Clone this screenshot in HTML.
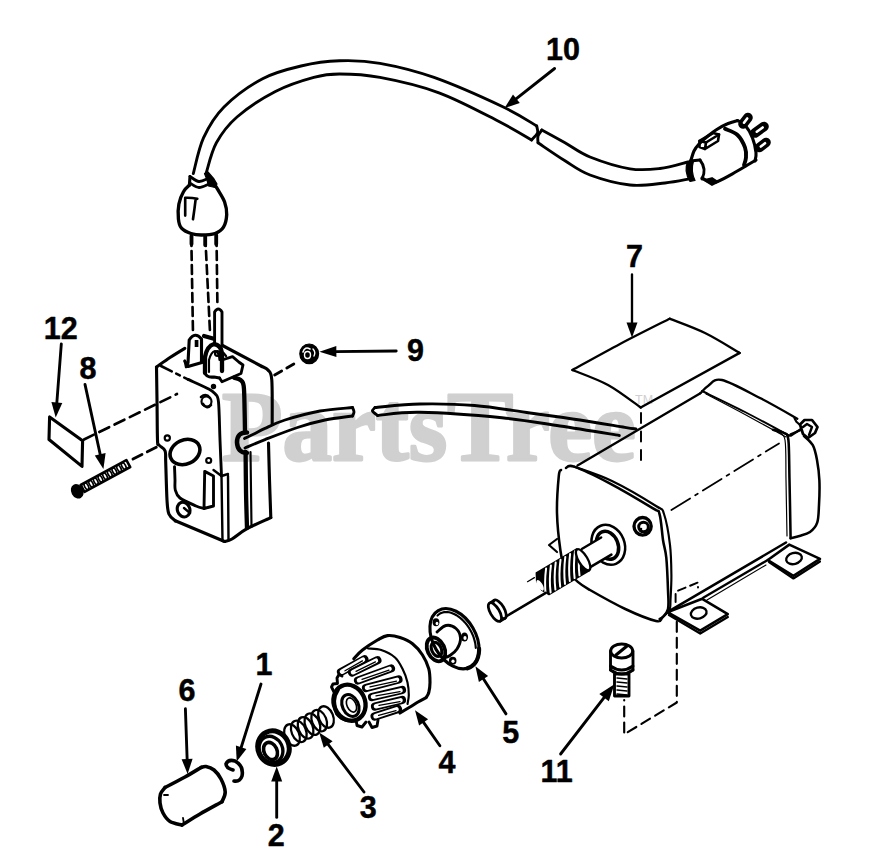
<!DOCTYPE html>
<html><head><meta charset="utf-8"><style>
html,body{margin:0;padding:0;background:#fff;}
svg{display:block;}
text{font-family:"Liberation Sans",sans-serif;font-weight:bold;fill:#000;stroke:#000;stroke-width:0.45px;}
text.wm{font-family:"Liberation Serif",serif;font-weight:bold;font-size:100px;fill:#d0d0d0;stroke:#d0d0d0;stroke-width:2.8px;stroke-linejoin:round;}
text.tm{font-family:"Liberation Sans",sans-serif;font-weight:normal;font-size:12.5px;fill:#d0d0d0;stroke:none;}
</style></head><body>
<svg width="879" height="858" viewBox="0 0 879 858" stroke-linecap="round" stroke-linejoin="round">
<rect width="879" height="858" fill="#fff"/>
<text x="222" y="459.5" class="wm" textLength="414" lengthAdjust="spacingAndGlyphs">PartsTree</text>
<text x="635" y="403.5" class="tm">TM</text>
<path d="M193.3,173.6 C195.0,167.6 198.5,148.8 203.6,137.7 C208.7,126.6 214.2,116.8 224.0,107.0 C233.8,97.2 249.8,85.5 262.6,78.7 C275.4,71.9 288.2,69.0 301.0,66.0 C313.8,63.0 326.3,61.2 339.5,60.8 C352.7,60.3 364.2,60.5 380.0,63.3 C395.8,66.1 413.4,70.1 434.0,77.4 C454.6,84.7 486.2,98.9 503.3,107.0 C520.4,115.1 531.1,122.8 536.7,126.0" fill="none" stroke="#000" stroke-width="2.88" />
<path d="M206.0,173.6 C207.7,168.5 211.2,152.2 216.4,142.8 C221.6,133.4 227.2,125.5 237.0,117.0 C246.8,108.5 262.6,98.1 275.4,91.5 C288.2,84.9 303.1,80.3 313.8,77.4 C324.5,74.5 328.5,74.0 339.5,74.0 C350.5,74.0 363.4,74.3 380.0,77.4 C396.6,80.5 419.3,85.5 439.0,92.8 C458.7,100.1 482.6,113.1 498.0,121.0 C513.4,128.9 525.9,136.8 531.5,140.0" fill="none" stroke="#000" stroke-width="2.88" />
<path d="M536.7,126.0 C536.8,127.2 538.4,130.7 537.5,133.0 C536.6,135.3 532.5,138.8 531.5,140.0" fill="none" stroke="#000" stroke-width="2.88" />
<path d="M541.8,130.0 C541.2,131.0 538.6,133.9 538.0,136.0 C537.4,138.1 538.0,141.7 538.0,142.8" fill="none" stroke="#000" stroke-width="2.88" />
<path d="M541.8,130.0 C545.7,132.1 557.0,138.3 565.0,142.8 C573.0,147.3 579.2,152.7 590.0,157.0 C600.8,161.3 618.3,166.9 630.0,168.8 C641.7,170.7 650.3,169.6 660.0,168.5 C669.7,167.4 683.3,163.1 688.0,162.0" fill="none" stroke="#000" stroke-width="2.88" />
<path d="M538.0,142.8 C542.5,145.8 556.3,155.4 565.0,160.8 C573.7,166.2 579.2,171.0 590.0,175.0 C600.8,179.0 617.5,183.7 630.0,185.0 C642.5,186.3 655.0,184.0 665.0,183.0 C675.0,182.0 685.8,179.5 690.0,178.8" fill="none" stroke="#000" stroke-width="2.88" />
<path d="M190.0,176.5 C191.5,177.3 196.0,181.2 199.0,181.5 C202.0,181.8 206.5,179.0 208.0,178.5" fill="none" stroke="#000" stroke-width="2.88" />
<path d="M190.5,183.5 C191.9,184.2 196.1,187.3 199.0,187.5 C201.9,187.7 206.5,185.0 208.0,184.5" fill="none" stroke="#000" stroke-width="2.88" />
<polyline points="190.0,176.5 189.4,185.2" fill="none" stroke="#000" stroke-width="3.12" />
<path d="M204.5,173.6 L207,180 L208.5,186 L215,187.5 L217,184 L214,179 L208,172 Z" fill="#000" stroke="#000" stroke-width="1.20" />
<path d="M189.4,185.2 C188.4,186.2 185.3,188.4 183.6,191.5 C181.8,194.6 179.8,199.4 178.9,204.0 C178.0,208.6 178.0,214.8 178.4,218.8 C178.8,222.8 179.4,225.8 181.5,228.2 C183.6,230.6 187.7,232.4 191.0,233.5 C194.3,234.6 197.5,235.0 201.5,235.0 C205.5,235.0 211.3,234.8 215.0,233.5 C218.7,232.2 221.6,230.3 223.5,227.2 C225.4,224.0 226.5,218.8 226.7,214.6 C226.9,210.4 226.0,206.0 224.6,202.0 C223.2,198.0 219.9,193.2 218.3,190.4 C216.7,187.6 215.6,186.1 215.0,185.2" fill="none" stroke="#000" stroke-width="3.36" />
<path d="M185.2,215.6 L185.2,197.8 Q191,197.5 197.3,198.8 M195.7,198.8 Q194.5,209 193,219.3" fill="none" stroke="#000" stroke-width="2.64" />
<polyline points="191.5,236.0 191.5,244.0" fill="none" stroke="#000" stroke-width="3.84" />
<polyline points="205.2,236.0 205.2,245.0" fill="none" stroke="#000" stroke-width="3.84" />
<polyline points="216.2,235.0 216.2,244.0" fill="none" stroke="#000" stroke-width="3.84" />
<path d="M687.5,162 Q683.5,171 690,181.5 L695,180.5 Q690.5,171 693.5,161 Z" fill="#000" stroke="#000" stroke-width="1.20" />
<path d="M700,160 Q707,169 702,179" fill="none" stroke="#000" stroke-width="2.88" />
<polyline points="690.0,161.0 700.0,160.0" fill="none" stroke="#000" stroke-width="2.88" />
<path d="M691.0,160.0 C691.5,158.5 692.7,153.7 694.0,151.0 C695.3,148.3 696.7,146.5 699.0,144.0 C701.3,141.5 705.2,138.3 708.0,136.0 C710.8,133.7 712.8,132.0 716.0,130.0 C719.2,128.0 723.9,125.3 727.5,123.8 C731.1,122.2 735.8,121.1 737.5,120.6" fill="none" stroke="#000" stroke-width="3.12" />
<path d="M737.5,120.6 C738.8,121.3 742.5,122.1 745.0,125.0 C747.5,127.9 750.7,133.4 752.5,138.0 C754.3,142.6 755.6,148.7 756.0,152.5 C756.4,156.3 755.2,159.6 755.0,161.0" fill="none" stroke="#000" stroke-width="3.12" />
<path d="M725.0,128.8 C727.1,129.8 734.2,131.9 737.5,135.0 C740.8,138.1 743.6,143.8 745.0,147.5 C746.4,151.2 746.2,154.6 746.0,157.5 C745.8,160.4 744.3,163.8 744.0,165.0" fill="none" stroke="#000" stroke-width="3.84" />
<path d="M702.0,178.0 C704.0,178.8 708.9,183.2 714.0,182.5 C719.1,181.8 726.9,176.7 732.5,173.8 C738.1,170.8 743.6,167.3 747.5,165.0 C751.4,162.7 754.6,160.8 756.0,160.0" fill="none" stroke="#000" stroke-width="3.12" />
<path d="M704,180 L712,185 L718,182 L712,178 Z" fill="#000" stroke="#000" stroke-width="1.80" />
<line x1="743" y1="124" x2="748" y2="117.5" stroke="#000" stroke-width="9.60"/>
<line x1="744.0" y1="122.7" x2="747.25" y2="118.475" stroke="#fff" stroke-width="2.6"/>
<line x1="755" y1="133" x2="764" y2="126.5" stroke="#000" stroke-width="9.60"/>
<line x1="756.8" y1="131.7" x2="762.65" y2="127.475" stroke="#fff" stroke-width="2.6"/>
<line x1="759.5" y1="147.5" x2="766" y2="142.5" stroke="#000" stroke-width="9.60"/>
<line x1="760.8" y1="146.5" x2="765.025" y2="143.25" stroke="#fff" stroke-width="2.6"/>
<path d="M699.5,141 L713,133 L719,134.5 L706,142.5 Z" fill="none" stroke="#000" stroke-width="2.64" />
<path d="M699.5,141 L699.5,147 L705,149 L706,142.5 M705,149 L718,141 L719,134.5" fill="none" stroke="#000" stroke-width="2.64" />
<text x="546.0" y="60.2" font-size="30.5">10</text>
<line x1="554.6" y1="68.5" x2="514.8" y2="99.9" stroke="#000" stroke-width="2.88"/>
<path d="M504.6,108.0 L513.0,94.4 L519.8,103.0 Z" fill="#000"/>
<polyline points="191.3,237.0 193.0,334.0" fill="none" stroke="#000" stroke-width="2.64" stroke-dasharray="9 5"/>
<polyline points="205.3,237.0 210.0,332.0" fill="none" stroke="#000" stroke-width="2.64" stroke-dasharray="9 5"/>
<polyline points="216.5,237.0 217.4,304.0" fill="none" stroke="#000" stroke-width="2.64" stroke-dasharray="9 5"/>
<path d="M214.6,345 L214.6,312 Q218.3,306 222,312 L222,346" fill="none" stroke="#000" stroke-width="2.88" />
<path d="M188,363 L189.2,340 Q195,331 201.5,339 L201.5,362" fill="none" stroke="#000" stroke-width="3.12" />
<rect x="194.7" y="340" width="3.7" height="7" fill="#000"/>
<path d="M184.7,361 L188,366.5 L202,362.5 L202,358" fill="none" stroke="#000" stroke-width="3.12" />
<path d="M185,362 L189,366 L186,367 Z" fill="#000" stroke="#000" stroke-width="2.40" />
<polyline points="204.0,336.0 213.0,338.5" fill="none" stroke="#000" stroke-width="4.20" />
<path d="M205,373 L205,357 Q207,346 214,344 Q221,345 222,353 L222,371" fill="#fff" stroke="#000" stroke-width="4.32" />
<path d="M209,372 L209,360 Q211,352 215,351 Q219,352 219.5,360" fill="none" stroke="#000" stroke-width="2.16" />
<ellipse cx="217.3" cy="353.5" rx="2.3" ry="2.3" transform="rotate(0 217.3 353.5)" fill="none" stroke="#000" stroke-width="2.16"/>
<path d="M222,360 L232.5,356.7 L238.8,362 L243,365 L241,373.5 L222,381.8 L219.5,378" fill="none" stroke="#000" stroke-width="2.88" />
<path d="M205,373 Q207,378 214,377 L219.5,378" fill="none" stroke="#000" stroke-width="3.12" />
<polyline points="223.5,353.0 226.0,356.0" fill="none" stroke="#000" stroke-width="2.40" />
<path d="M156.5,367.0 C158.8,365.4 165.3,360.6 170.0,357.5 C174.7,354.4 182.3,349.8 184.8,348.3" fill="none" stroke="#000" stroke-width="3.12" />
<path d="M156.5,367.0 C156.6,372.5 156.8,387.8 157.0,400.0 C157.2,412.2 157.2,432.5 157.5,440.0 C157.8,447.5 157.8,443.2 159.0,445.0 C160.2,446.8 163.9,447.9 165.0,450.7 C166.1,453.5 165.4,453.6 165.7,461.8 C166.0,470.0 166.5,491.3 167.0,500.0 C167.5,508.7 167.5,510.5 168.9,514.0 C170.3,517.5 174.2,519.7 175.3,520.8" fill="none" stroke="#000" stroke-width="3.12" />
<polyline points="175.3,520.8 224.6,541.5" fill="none" stroke="#000" stroke-width="3.12" />
<path d="M224.6,541.5 C225.8,541.1 228.3,541.1 232.0,539.0 C235.7,536.9 240.5,532.3 247.0,528.7 C253.5,525.1 266.8,519.5 270.8,517.6" fill="none" stroke="#000" stroke-width="3.12" />
<path d="M262.0,366.5 C263.0,367.1 266.4,367.8 268.0,370.0 C269.6,372.2 271.1,371.0 271.8,380.0 C272.5,389.0 272.1,416.7 272.2,424.0" fill="none" stroke="#000" stroke-width="3.12" />
<path d="M268.5,443.0 C268.7,449.2 269.1,467.6 269.5,480.0 C269.9,492.4 270.6,511.3 270.8,517.6" fill="none" stroke="#000" stroke-width="3.12" />
<polyline points="262.0,366.5 222.5,345.5" fill="none" stroke="#000" stroke-width="3.12" />
<path d="M161,366 L188,379.4" stroke="#000" stroke-width="2.64" stroke-dasharray="12 5 4 5" fill="none"/>
<path d="M188.0,379.4 C191.4,381.0 204.2,386.6 208.7,389.0 C213.2,391.4 213.4,391.5 215.0,393.7 C216.6,395.9 217.7,394.3 218.5,402.0 C219.3,409.7 219.5,427.7 220.0,440.0 C220.5,452.3 221.2,470.0 221.5,476.0" fill="none" stroke="#000" stroke-width="2.88" />
<ellipse cx="213.5" cy="386.5" rx="1.8" ry="1.8" transform="rotate(0 213.5 386.5)" fill="#000" stroke="#000" stroke-width="1.80"/>
<polyline points="221.5,476.0 222.5,541.0" fill="none" stroke="#000" stroke-width="2.40" />
<polyline points="228.0,476.0 228.5,540.0" fill="none" stroke="#000" stroke-width="2.40" />
<path d="M213.5,470 L221.5,476 L228,474" fill="none" stroke="#000" stroke-width="2.40" />
<path d="M234.2,377.8 C235.2,378.2 238.9,378.6 240.5,380.0 C242.1,381.4 243.0,381.0 243.7,386.0 C244.4,391.0 244.4,402.3 244.6,410.0 C244.8,417.7 244.9,428.3 245.0,432.0" fill="none" stroke="#000" stroke-width="4.32" />
<path d="M245.6,452.0 C245.7,458.3 245.8,477.3 246.0,490.0 C246.2,502.7 246.8,521.7 247.0,528.0" fill="none" stroke="#000" stroke-width="4.32" />
<polyline points="250.5,452.0 251.5,527.0" fill="none" stroke="#000" stroke-width="2.16" />
<path d="M201,397 Q206,393 210,398 M203,404 Q207,410 211,405" fill="none" stroke="#000" stroke-width="2.64"/>
<ellipse cx="206.5" cy="401.5" rx="5.0" ry="5.0" transform="rotate(0 206.5 401.5)" fill="none" stroke="#000" stroke-width="2.16"/>
<ellipse cx="167.3" cy="438.0" rx="2.6" ry="2.6" transform="rotate(0 167.3 438.0)" fill="none" stroke="#000" stroke-width="2.16"/>
<ellipse cx="208.7" cy="460.5" rx="2.5" ry="2.5" transform="rotate(0 208.7 460.5)" fill="none" stroke="#000" stroke-width="2.16"/>
<ellipse cx="185.0" cy="452.0" rx="15.5" ry="12.0" transform="rotate(-25 185.0 452.0)" fill="none" stroke="#000" stroke-width="3.60"/>
<path d="M174.5,466.6 C174.6,468.8 174.9,476.1 175.0,480.0 C175.1,483.9 174.5,487.0 175.3,490.0 C176.1,493.0 176.6,495.3 180.0,498.0 C183.4,500.7 192.0,504.2 196.0,506.0 C200.0,507.8 202.7,508.1 204.0,508.5" fill="none" stroke="#000" stroke-width="2.88" />
<path d="M204,508.5 L204.7,471.4 L213.5,476 L213.5,506 L204,508.5" fill="none" stroke="#000" stroke-width="2.88" />
<ellipse cx="183.6" cy="509.6" rx="6.2" ry="7.5" transform="rotate(-20 183.6 509.6)" fill="none" stroke="#000" stroke-width="3.12"/>
<polyline points="184.0,508.0 190.0,513.0" fill="none" stroke="#000" stroke-width="2.40" />
<path d="M247,432.5 Q237,432 237,442.5 Q237.5,452.5 247,453" fill="none" stroke="#000" stroke-width="4.56" />
<path d="M244.5,438.5 C246.2,437.7 251.6,435.2 255.0,433.5 C258.4,431.8 260.0,430.6 265.0,428.4 C270.0,426.1 275.8,422.9 285.0,420.0 C294.2,417.1 308.8,413.1 320.0,411.0 C331.2,408.9 347.1,408.1 352.5,407.5" fill="none" stroke="#000" stroke-width="2.88" />
<path d="M245.0,448.0 C248.3,446.6 256.2,443.0 265.0,439.6 C273.8,436.2 287.5,430.8 297.5,427.5 C307.5,424.2 315.8,421.9 325.0,420.0 C334.2,418.1 347.9,416.7 352.5,416.0" fill="none" stroke="#000" stroke-width="2.88" />
<path d="M352.5,407.5 C352.8,408.2 354.0,410.6 354.0,412.0 C354.0,413.4 352.8,415.3 352.5,416.0" fill="none" stroke="#000" stroke-width="2.88" />
<path d="M375.0,407.5 C374.6,408.1 372.1,409.7 372.5,411.0 C372.9,412.3 376.7,414.8 377.5,415.5" fill="none" stroke="#000" stroke-width="2.88" />
<path d="M375.0,407.5 C382.5,406.9 403.4,404.3 420.0,404.0 C436.6,403.7 456.3,404.0 474.6,405.5 C492.9,407.0 512.4,410.6 530.0,413.0 C547.6,415.4 564.2,417.6 580.0,420.0 C595.8,422.4 615.5,425.8 624.8,427.3 C634.1,428.8 634.1,428.7 636.0,429.0" fill="none" stroke="#000" stroke-width="2.88" />
<path d="M377.5,415.5 C384.6,415.0 399.2,411.9 420.0,412.3 C440.8,412.7 478.7,415.5 502.0,417.8 C525.3,420.1 540.5,423.1 560.0,426.0 C579.5,428.9 609.4,433.9 619.3,435.5" fill="none" stroke="#000" stroke-width="2.88" />
<text x="43.8" y="338.7" font-size="30.5">12</text>
<line x1="61.3" y1="344.0" x2="56.7" y2="404.5" stroke="#000" stroke-width="2.88"/>
<path d="M55.7,417.5 L51.4,402.1 L62.3,403.0 Z" fill="#000"/>
<path d="M49.6,417 L49,439.5 L82,466.4 L82.6,440.7 Z" fill="none" stroke="#000" stroke-width="3.12" />
<polyline points="84.0,439.5 177.0,394.0" fill="none" stroke="#000" stroke-width="2.64" stroke-dasharray="11 6"/>
<text x="79.4" y="378.5" font-size="30.5">8</text>
<line x1="85.0" y1="384.4" x2="100.6" y2="456.2" stroke="#000" stroke-width="2.88"/>
<path d="M103.4,468.9 L94.8,455.4 L105.6,453.1 Z" fill="#000"/>
<g transform="rotate(-28.5 82.6 488.4)">
<rect x="82.6" y="484.4" width="52" height="8" fill="none" stroke="#000" stroke-width="2.64"/>
<ellipse cx="87.0" cy="488.4" rx="1.8" ry="3.6" fill="none" stroke="#000" stroke-width="1.68"/>
<ellipse cx="92.3" cy="488.4" rx="1.8" ry="3.6" fill="none" stroke="#000" stroke-width="1.68"/>
<ellipse cx="97.6" cy="488.4" rx="1.8" ry="3.6" fill="none" stroke="#000" stroke-width="1.68"/>
<ellipse cx="102.9" cy="488.4" rx="1.8" ry="3.6" fill="none" stroke="#000" stroke-width="1.68"/>
<ellipse cx="108.2" cy="488.4" rx="1.8" ry="3.6" fill="none" stroke="#000" stroke-width="1.68"/>
<ellipse cx="113.5" cy="488.4" rx="1.8" ry="3.6" fill="none" stroke="#000" stroke-width="1.68"/>
<ellipse cx="118.8" cy="488.4" rx="1.8" ry="3.6" fill="none" stroke="#000" stroke-width="1.68"/>
<ellipse cx="124.1" cy="488.4" rx="1.8" ry="3.6" fill="none" stroke="#000" stroke-width="1.68"/>
<ellipse cx="129.4" cy="488.4" rx="1.8" ry="3.6" fill="none" stroke="#000" stroke-width="1.68"/>
<ellipse cx="76.5" cy="488.4" rx="6" ry="7.6" fill="#000"/>
</g>
<polyline points="133.0,459.0 157.3,446.8" fill="none" stroke="#000" stroke-width="2.88" stroke-dasharray="10 6"/>
<ellipse cx="309.2" cy="353.8" rx="9.4" ry="9.8" transform="rotate(0 309.2 353.8)" fill="#000" stroke="#000" stroke-width="1.20"/>
<path d="M303,352 Q305,346 310,349" fill="none" stroke="#fff" stroke-width="1.6"/>
<ellipse cx="307.5" cy="355.0" rx="3.0" ry="3.5" transform="rotate(0 307.5 355.0)" fill="none" stroke="#000" stroke-width="1.68"/>
<ellipse cx="307.5" cy="355" rx="3" ry="3.5" fill="none" stroke="#fff" stroke-width="1.4"/>
<path d="M313,349 Q316,352 314,356" fill="none" stroke="#fff" stroke-width="1.4"/>
<line x1="396.2" y1="351.0" x2="334.4" y2="351.6" stroke="#000" stroke-width="2.88"/>
<path d="M319.4,351.7 L336.3,346.0 L336.4,357.0 Z" fill="#000"/>
<text x="407.0" y="360.7" font-size="30.5">9</text>
<polyline points="293.8,364.0 272.3,376.3" fill="none" stroke="#000" stroke-width="2.88" stroke-dasharray="8 6"/>
<text x="626.0" y="266.5" font-size="30.5">7</text>
<line x1="632.0" y1="274.4" x2="632.0" y2="324.5" stroke="#000" stroke-width="2.35"/>
<path d="M632.0,337.5 L626.5,322.5 L637.5,322.5 Z" fill="#000"/>
<path d="M572.4,370.0 C580.3,365.7 603.8,352.6 620.0,344.0 C636.2,335.4 661.4,322.9 669.7,318.7" fill="none" stroke="#000" stroke-width="2.35" />
<path d="M669.7,318.7 C675.6,321.1 693.3,327.3 705.0,333.0 C716.7,338.7 733.9,349.6 739.7,352.9" fill="none" stroke="#000" stroke-width="2.35" />
<polyline points="739.7,352.9 640.7,407.5" fill="none" stroke="#000" stroke-width="2.35" />
<path d="M572.4,370.0 C578.3,372.5 596.6,378.8 608.0,385.0 C619.4,391.2 635.2,403.8 640.7,407.5" fill="none" stroke="#000" stroke-width="2.35" />
<polyline points="641.0,413.0 641.0,460.0" fill="none" stroke="#000" stroke-width="1.96" stroke-dasharray="10 8.5"/>
<polyline points="577.5,465.6 700.4,393.2" fill="none" stroke="#000" stroke-width="2.35" />
<path d="M700.4,393.2 C701.7,392.0 704.4,388.2 708.0,386.0 C711.6,383.8 713.3,378.0 722.0,380.0 C730.7,382.0 747.5,391.6 760.0,398.0 C772.5,404.4 791.1,415.2 797.3,418.7" fill="none" stroke="#000" stroke-width="2.35" />
<path d="M702.0,391.0 C709.2,394.5 730.6,404.6 745.0,412.0 C759.4,419.4 781.2,431.4 788.4,435.3" fill="none" stroke="#000" stroke-width="1.96" />
<path d="M706.0,394.0 C712.5,397.4 731.7,407.3 745.0,414.5 C758.3,421.7 779.2,433.2 786.0,437.0" fill="none" stroke="#000" stroke-width="1.18" />
<path d="M773.0,429.7 C774.8,430.2 781.4,431.3 784.0,433.0 C786.6,434.7 787.5,432.2 788.4,440.0 C789.3,447.8 789.1,463.6 789.5,480.0 C789.9,496.4 790.4,528.5 790.6,538.2" fill="none" stroke="#000" stroke-width="2.55" />
<path d="M778.0,432.0 C779.2,433.3 783.7,432.0 785.0,440.0 C786.3,448.0 785.7,464.0 786.0,480.0 C786.3,496.0 786.8,526.7 787.0,536.0" fill="none" stroke="#000" stroke-width="1.18" />
<path d="M790.6,434.2 C792.8,433.3 801.8,429.5 804.0,428.6" fill="none" stroke="#000" stroke-width="2.16" />
<path d="M804.0,436.0 C805.5,437.5 810.6,441.2 812.8,445.2 C815.0,449.2 815.9,454.1 817.0,460.0 C818.1,465.9 819.1,473.1 819.4,480.6 C819.7,488.1 819.4,498.0 819.0,505.0 C818.6,512.0 818.7,518.2 817.2,522.7 C815.7,527.2 813.0,529.8 810.0,532.0 C807.0,534.2 802.7,535.0 799.5,536.0 C796.3,537.0 792.1,537.8 790.6,538.2" fill="none" stroke="#000" stroke-width="2.55" />
<path d="M800,424.5 L804.5,420 L812,420 L817.5,427 L815,433 L808,438 L803,434 Z" fill="#fff" stroke="#000" stroke-width="2.74" />
<path d="M803,427 L807,424 L812,427 L809,435" fill="none" stroke="#000" stroke-width="2.35" />
<path d="M794.5,418.2 L796.4,421.8 L799.5,424.5" fill="none" stroke="#000" stroke-width="2.16" />
<path d="M787.3,435.5 L791,435.5 L801,429" fill="none" stroke="#000" stroke-width="2.35" />
<line x1="671.4" y1="510" x2="779" y2="443.4" stroke="#000" stroke-width="1.76" stroke-dasharray="22 6 3 6"/>
<path d="M566.0,468.0 C567.3,467.8 567.0,464.2 574.0,466.6 C581.0,469.0 595.2,475.7 608.3,482.6 C621.4,489.5 644.1,503.0 652.6,508.2 C661.1,513.4 657.8,508.7 659.5,514.0 C661.2,519.3 661.9,532.7 663.0,540.0 C664.1,547.3 665.5,549.4 666.3,557.7 C667.1,566.0 667.7,581.5 668.0,590.0 C668.3,598.5 669.0,604.3 668.0,609.0 C667.0,613.7 664.0,616.0 662.0,618.0 C660.0,620.0 662.1,622.5 656.0,621.0 C649.9,619.5 636.3,614.2 625.3,609.0 C614.3,603.8 598.0,594.6 590.0,590.0 C582.0,585.4 581.7,585.3 577.5,581.6 C573.3,577.9 567.8,573.1 565.0,568.0 C562.2,562.9 561.8,560.1 560.5,551.0 C559.2,541.9 557.3,525.8 557.0,513.3 C556.7,500.8 558.1,483.0 558.8,475.8 C559.5,468.6 560.6,471.0 561.0,470.0" fill="none" stroke="#000" stroke-width="2.55" />
<path d="M574.0,466.6 C580.3,469.0 598.3,474.4 612.0,481.0 C625.7,487.6 647.3,500.5 656.0,506.0 C664.7,511.5 661.7,507.5 664.0,514.0 C666.3,520.5 668.8,534.9 670.0,545.0 C671.2,555.1 671.3,565.6 671.4,574.8 C671.5,584.0 670.8,594.3 670.5,600.0 C670.2,605.7 670.8,606.3 669.7,609.0 C668.6,611.7 665.7,614.3 664.0,616.0 C662.3,617.7 660.2,618.5 659.5,619.0" fill="none" stroke="#000" stroke-width="2.16" />
<ellipse cx="642.6" cy="526.3" rx="8.6" ry="8.8" transform="rotate(0 642.6 526.3)" fill="none" stroke="#000" stroke-width="3.33"/>
<ellipse cx="643.5" cy="527.0" rx="4.8" ry="4.8" transform="rotate(0 643.5 527.0)" fill="none" stroke="#000" stroke-width="2.94"/>
<ellipse cx="641" cy="529" rx="1.3" ry="1.3" fill="#000"/>
<path d="M557,539 L549,545 L557,552" fill="none" stroke="#000" stroke-width="2.16" />
<polyline points="667.4,612.2 786.0,542.5" fill="none" stroke="#000" stroke-width="2.55" />
<polyline points="703.2,597.8 767.8,560.0" fill="none" stroke="#000" stroke-width="2.35" />
<polyline points="707.0,600.0 766.0,565.0" fill="none" stroke="#000" stroke-width="1.18" />
<path d="M667.4,612.2 L702.2,598.8 L727.8,614.2 L700.2,630.6 Z" fill="none" stroke="#000" stroke-width="2.55" />
<path d="M669,615 L700.2,633.6 L727.8,617" fill="none" stroke="#000" stroke-width="2.35" />
<ellipse cx="698.7" cy="613.0" rx="8.0" ry="5.5" transform="rotate(-15 698.7 613.0)" fill="none" stroke="#000" stroke-width="2.35"/>
<path d="M767.8,560 L789.3,544.6 L820,558.9 L793.4,575.8 Z" fill="none" stroke="#000" stroke-width="2.55" />
<path d="M769,562 L793.4,578.5 L820,561.5" fill="none" stroke="#000" stroke-width="2.16" />
<ellipse cx="794.0" cy="558.5" rx="8.0" ry="5.5" transform="rotate(-15 794.0 558.5)" fill="none" stroke="#000" stroke-width="2.35"/>
<polyline points="675.6,602.0 675.6,591.7 698.0,582.5 698.0,587.6" fill="none" stroke="#000" stroke-width="1.96" stroke-dasharray="8 5"/>
<polyline points="676.8,621.8 676.8,702.5 624.2,734.3 624.2,700.0" fill="none" stroke="#000" stroke-width="2.16" stroke-dasharray="10 6"/>
<ellipse cx="608.3" cy="544.8" rx="16.2" ry="20.5" transform="rotate(-22 608.3 544.8)" fill="#fff" stroke="#000" stroke-width="2.55"/>
<ellipse cx="607.5" cy="545.3" rx="10.5" ry="14.5" transform="rotate(-22 607.5 545.3)" fill="#fff" stroke="#000" stroke-width="3.53"/>
<path d="M601.2,537.4 L577.1,551.7 L587.3,568.9 L611.4,554.6 Z" fill="#fff" stroke="none"/>
<polyline points="601.2,537.4 577.1,551.7" fill="none" stroke="#000" stroke-width="2.35" />
<polyline points="611.4,554.6 587.3,568.9" fill="none" stroke="#000" stroke-width="2.55" />
<path d="M576.7,549.0 L536.3,573.0 L536.7,581.5 L541.8,590.1 L549.0,594.5 L589.4,570.5 Z" fill="#000" stroke="#000" stroke-width="1.47" stroke-linejoin="round"/>
<path d="M579.8,548.4 Q577.9,562.9 579.5,575.3" fill="none" stroke="#fff" stroke-width="2.0"/>
<path d="M575.0,551.2 Q573.1,565.7 574.6,578.1" fill="none" stroke="#fff" stroke-width="2.0"/>
<path d="M570.1,554.1 Q568.3,568.6 569.8,581.0" fill="none" stroke="#fff" stroke-width="2.0"/>
<path d="M565.3,556.9 Q563.5,571.4 565.0,583.9" fill="none" stroke="#fff" stroke-width="2.0"/>
<path d="M560.5,559.8 Q558.6,574.3 560.2,586.7" fill="none" stroke="#fff" stroke-width="2.0"/>
<path d="M555.7,562.6 Q553.8,577.1 555.4,589.6" fill="none" stroke="#fff" stroke-width="2.0"/>
<path d="M550.9,565.5 Q549.0,580.0 550.6,592.4" fill="none" stroke="#fff" stroke-width="2.0"/>
<path d="M546.1,568.4 Q544.2,582.8 545.8,595.3" fill="none" stroke="#fff" stroke-width="2.0"/>
<ellipse cx="583.1" cy="559.8" rx="4.5" ry="12" transform="rotate(-30.7 583.1 559.8)" fill="#fff" stroke="#000" stroke-width="2.35"/>
<ellipse cx="540.1" cy="585.3" rx="2.5" ry="6" transform="rotate(-30.7 540.1 585.3)" fill="#fff" stroke="none"/>
<polyline points="545.8,592.9 504.5,617.4" fill="none" stroke="#000" stroke-width="2.55" />
<polyline points="534.4,577.6 527.5,581.7" fill="none" stroke="#000" stroke-width="1.27" />
<ellipse cx="499.6" cy="609.3" rx="4.5" ry="10.5" transform="rotate(-30.7 499.6 609.3)" fill="#fff" stroke="#000" stroke-width="2.74"/>
<ellipse cx="494.9" cy="612.1" rx="4.5" ry="10.5" transform="rotate(-30.7 494.9 612.1)" fill="#fff" stroke="#000" stroke-width="2.74"/>
<polyline points="494.3,600.2 489.6,603.0" fill="none" stroke="#000" stroke-width="2.55" />
<polyline points="505.0,618.3 500.3,621.1" fill="none" stroke="#000" stroke-width="2.55" />
<ellipse cx="454.5" cy="638.7" rx="21.3" ry="32.5" transform="rotate(-30 454.5 638.7)" fill="none" stroke="#000" stroke-width="3.12"/>
<polyline points="437.5,615.5 438.7,614.5 439.9,613.6 441.3,613.0 442.7,612.5 444.2,612.1 445.9,612.0 447.5,612.1 449.2,612.3 451.0,612.8 452.8,613.4 454.6,614.2 456.4,615.2 458.1,616.3 459.9,617.6 461.6,619.1 463.3,620.7 464.9,622.4 466.4,624.2 467.8,626.2 469.2,628.2 470.4,630.3 471.6,632.5 472.6,634.7 473.5,636.9 474.2,639.2 474.8,641.4 475.3,643.6 475.6,645.8 475.8,647.9" fill="none" stroke="#000" stroke-width="2.16" />
<polyline points="479.1,648.6 479.1,649.7 479.1,650.7 479.0,651.6 478.9,652.6 478.8,653.6 478.6,654.5 478.4,655.4 478.2,656.3 478.0,657.2 477.7,658.0 477.4,658.8 477.1,659.6 476.7,660.4 476.3,661.1 475.9,661.9 475.4,662.5 474.9,663.2 474.4,663.8 473.9,664.4 473.3,664.9 472.7,665.4 472.1,665.9 471.5,666.4 470.9,666.8 470.2,667.2 469.5,667.5 468.8,667.8 468.0,668.0 467.3,668.3" fill="none" stroke="#000" stroke-width="4.08" />
<ellipse cx="436.0" cy="649.4" rx="8.5" ry="12.5" transform="rotate(-25 436.0 649.4)" fill="none" stroke="#000" stroke-width="3.84"/>
<ellipse cx="436.5" cy="649.4" rx="4.8" ry="7.5" transform="rotate(-25 436.5 649.4)" fill="none" stroke="#000" stroke-width="3.12"/>
<path d="M437.0,632.0 C438.5,630.9 442.8,626.1 446.0,625.5 C449.2,624.9 453.6,626.4 456.0,628.5 C458.4,630.6 460.3,634.6 460.5,638.0 C460.7,641.4 458.8,646.1 457.0,649.0 C455.2,651.9 452.2,654.0 450.0,655.5 C447.8,657.0 445.0,657.6 444.0,658.0" fill="none" stroke="#000" stroke-width="2.88" />
<ellipse cx="436" cy="622.3" rx="3.4" ry="4" fill="#000"/>
<ellipse cx="437" cy="623.5" rx="1.4" ry="1.8" fill="#fff"/>
<ellipse cx="464.5" cy="637" rx="3.6" ry="4.6" fill="#000"/>
<ellipse cx="465" cy="638" rx="1.6" ry="2" fill="#fff"/>
<ellipse cx="452.7" cy="660.7" rx="3.8" ry="3.9" fill="#000"/>
<ellipse cx="453" cy="661.3" rx="1.6" ry="1.8" fill="#fff"/>
<line x1="506.0" y1="713.9" x2="482.4" y2="677.2" stroke="#000" stroke-width="2.88"/>
<path d="M475.4,666.3 L488.1,675.9 L478.9,681.9 Z" fill="#000"/>
<text x="502.2" y="743.3" font-size="30.5">5</text>
<path d="M353.8,658.8 C355.2,657.3 358.5,653.1 362.5,650.0 C366.5,646.9 373.3,642.4 377.5,640.0 C381.7,637.6 383.8,636.0 387.5,635.6 C391.2,635.2 395.8,636.1 400.0,637.5 C404.2,638.9 408.8,640.8 412.5,643.8 C416.2,646.7 419.8,650.8 422.5,655.0 C425.2,659.2 427.5,664.2 428.8,668.8 C430.0,673.3 430.0,678.5 430.0,682.5 C430.0,686.5 429.4,690.0 428.8,692.5 C428.1,695.0 426.7,696.7 426.2,697.5" fill="none" stroke="#000" stroke-width="3.12" />
<path d="M426.2,697.5 C424.9,698.2 420.7,700.4 418.0,702.0 C415.3,703.6 413.0,705.2 410.0,707.0 C407.0,708.8 401.7,712.0 400.0,713.0" fill="none" stroke="#000" stroke-width="3.12" />
<path d="M368.0,648.5 C370.2,648.8 376.8,648.5 381.2,650.0 C385.8,651.5 391.5,654.4 395.0,657.5 C398.5,660.6 400.4,664.6 402.5,668.8 C404.6,672.9 406.5,678.1 407.5,682.5 C408.5,686.9 408.8,691.4 408.8,695.0 C408.8,698.6 407.7,702.5 407.5,704.0" fill="none" stroke="#000" stroke-width="2.16" />
<line x1="341.0" y1="672.0" x2="364.4" y2="659.3" stroke="#000" stroke-width="8.16" stroke-linecap="round"/>
<line x1="342.0" y1="671.7" x2="362.9" y2="659.7" stroke="#fff" stroke-width="4.6" stroke-linecap="round"/>
<line x1="345.0" y1="670.8" x2="362.4" y2="660.9" stroke="#000" stroke-width="1.32"/>
<line x1="352.0" y1="672.5" x2="377.4" y2="660.3" stroke="#000" stroke-width="8.16" stroke-linecap="round"/>
<line x1="353.0" y1="672.2" x2="375.9" y2="660.7" stroke="#fff" stroke-width="4.6" stroke-linecap="round"/>
<line x1="356.0" y1="671.3" x2="375.4" y2="661.9" stroke="#000" stroke-width="1.32"/>
<line x1="358.0" y1="680.5" x2="391.0" y2="668.5" stroke="#000" stroke-width="8.16" stroke-linecap="round"/>
<line x1="359.0" y1="680.2" x2="389.5" y2="668.9" stroke="#fff" stroke-width="4.6" stroke-linecap="round"/>
<line x1="362.0" y1="679.3" x2="389.0" y2="670.1" stroke="#000" stroke-width="1.32"/>
<line x1="366.0" y1="688.0" x2="398.5" y2="679.5" stroke="#000" stroke-width="8.16" stroke-linecap="round"/>
<line x1="367.0" y1="687.7" x2="397.0" y2="679.9" stroke="#fff" stroke-width="4.6" stroke-linecap="round"/>
<line x1="370.0" y1="686.8" x2="396.5" y2="681.1" stroke="#000" stroke-width="1.32"/>
<line x1="372.0" y1="697.0" x2="402.0" y2="690.0" stroke="#000" stroke-width="8.16" stroke-linecap="round"/>
<line x1="373.0" y1="696.7" x2="400.5" y2="690.4" stroke="#fff" stroke-width="4.6" stroke-linecap="round"/>
<line x1="376.0" y1="695.8" x2="400.0" y2="691.6" stroke="#000" stroke-width="1.32"/>
<line x1="375.0" y1="706.5" x2="402.0" y2="700.0" stroke="#000" stroke-width="8.16" stroke-linecap="round"/>
<line x1="376.0" y1="706.2" x2="400.5" y2="700.4" stroke="#fff" stroke-width="4.6" stroke-linecap="round"/>
<line x1="379.0" y1="705.3" x2="400.0" y2="701.6" stroke="#000" stroke-width="1.32"/>
<line x1="374.6" y1="716.5" x2="398.0" y2="709.0" stroke="#000" stroke-width="8.16" stroke-linecap="round"/>
<line x1="375.6" y1="716.2" x2="396.5" y2="709.4" stroke="#fff" stroke-width="4.6" stroke-linecap="round"/>
<line x1="378.6" y1="715.3" x2="396.0" y2="710.6" stroke="#000" stroke-width="1.32"/>
<path d="M334,692 L331.5,687 L333,684 L337.5,683.5 L337,678 L339,674.5 L342,676" fill="none" stroke="#000" stroke-width="2.88" />
<path d="M356,720 L357,725.5 L362,727 L366,722 M369,722 L372,727.5 L377,726 L378,720" fill="none" stroke="#000" stroke-width="2.88" />
<ellipse cx="349.5" cy="702.7" rx="15.5" ry="18.5" transform="rotate(-25 349.5 702.7)" fill="#fff" stroke="#000" stroke-width="4.32"/>
<path d="M338,690 Q331,700 337,714 Q341,719 346,720" fill="none" stroke="#000" stroke-width="3.60"/>
<ellipse cx="350.4" cy="705.5" rx="8.0" ry="11.5" transform="rotate(-25 350.4 705.5)" fill="none" stroke="#000" stroke-width="3.12"/>
<ellipse cx="351.5" cy="705.0" rx="4.5" ry="7.5" transform="rotate(-25 351.5 705.0)" fill="none" stroke="#000" stroke-width="1.68"/>
<line x1="439.9" y1="745.8" x2="422.5" y2="720.9" stroke="#000" stroke-width="2.88"/>
<path d="M415.0,710.2 L428.1,719.3 L419.1,725.6 Z" fill="#000"/>
<text x="438.4" y="773.3" font-size="30.5">4</text>
<ellipse cx="292.0" cy="735.0" rx="7.2" ry="11.2" transform="rotate(-22 292.0 735.0)" fill="none" stroke="#000" stroke-width="2.28"/>
<ellipse cx="298.8" cy="731.4" rx="7.2" ry="11.2" transform="rotate(-22 298.8 731.4)" fill="none" stroke="#000" stroke-width="2.28"/>
<ellipse cx="305.6" cy="727.8" rx="7.2" ry="11.2" transform="rotate(-22 305.6 727.8)" fill="none" stroke="#000" stroke-width="2.28"/>
<ellipse cx="312.4" cy="724.2" rx="7.2" ry="11.2" transform="rotate(-22 312.4 724.2)" fill="none" stroke="#000" stroke-width="2.28"/>
<ellipse cx="319.2" cy="720.6" rx="7.2" ry="11.2" transform="rotate(-22 319.2 720.6)" fill="none" stroke="#000" stroke-width="2.28"/>
<ellipse cx="326.0" cy="717.0" rx="7.2" ry="11.2" transform="rotate(-22 326.0 717.0)" fill="none" stroke="#000" stroke-width="2.28"/>
<line x1="364.0" y1="792.0" x2="327.0" y2="742.9" stroke="#000" stroke-width="2.88"/>
<path d="M319.2,732.5 L332.6,741.2 L323.8,747.8 Z" fill="#000"/>
<text x="359.8" y="818.1" font-size="30.5">3</text>
<ellipse cx="273.5" cy="747.6" rx="15.5" ry="17.0" transform="rotate(-25 273.5 747.6)" fill="none" stroke="#000" stroke-width="5.04"/>
<ellipse cx="271.0" cy="749.5" rx="11.5" ry="13.5" transform="rotate(-25 271.0 749.5)" fill="none" stroke="#000" stroke-width="3.36"/>
<ellipse cx="270.5" cy="751.0" rx="6.5" ry="9.0" transform="rotate(-25 270.5 751.0)" fill="none" stroke="#000" stroke-width="3.60"/>
<line x1="276.7" y1="817.4" x2="276.7" y2="779.4" stroke="#000" stroke-width="2.88"/>
<path d="M276.7,766.4 L282.2,781.4 L271.2,781.4 Z" fill="#000"/>
<text x="267.8" y="846.0" font-size="30.5">2</text>
<path d="M233,770 Q226,768 226,764 Q228,759 235,761 Q244,766 242,776 Q240,782 234,781" fill="none" stroke="#000" stroke-width="3.60"/>
<line x1="261.0" y1="684.0" x2="240.6" y2="749.2" stroke="#000" stroke-width="2.88"/>
<path d="M236.7,761.6 L235.9,745.6 L246.4,748.9 Z" fill="#000"/>
<text x="255.6" y="675.0" font-size="30.5">1</text>
<path d="M165.0,787.5 C168.3,785.8 179.0,780.3 185.0,777.0 C191.0,773.7 198.3,769.1 201.0,767.5" fill="none" stroke="#000" stroke-width="3.60" />
<path d="M201.0,767.5 C201.8,767.3 203.8,766.1 206.0,766.5 C208.2,766.9 211.5,767.9 214.0,770.0 C216.5,772.1 219.1,775.3 221.0,779.0 C222.9,782.7 225.0,788.2 225.2,792.0 C225.4,795.8 222.5,800.1 222.0,801.7" fill="none" stroke="#000" stroke-width="3.60" />
<path d="M222.0,801.7 C218.3,803.8 206.7,810.1 200.0,814.0 C193.3,817.9 185.0,823.2 182.0,825.0" fill="none" stroke="#000" stroke-width="3.60" />
<path d="M165.0,787.5 C164.2,788.6 161.3,791.4 160.5,794.0 C159.7,796.6 159.6,799.8 160.0,803.0 C160.4,806.2 161.3,809.9 163.0,813.0 C164.7,816.1 166.8,819.5 170.0,821.5 C173.2,823.5 180.0,824.4 182.0,825.0" fill="none" stroke="#000" stroke-width="3.60" />
<polyline points="164.0,795.0 168.0,795.0" fill="none" stroke="#000" stroke-width="1.80" />
<polyline points="183.0,818.0 184.0,824.0" fill="none" stroke="#000" stroke-width="1.80" />
<line x1="185.4" y1="708.7" x2="187.2" y2="761.0" stroke="#000" stroke-width="2.88"/>
<path d="M187.6,774.0 L181.6,759.2 L192.6,758.8 Z" fill="#000"/>
<text x="178.6" y="700.5" font-size="30.5">6</text>
<ellipse cx="621.7" cy="651.0" rx="11.0" ry="7.0" transform="rotate(0 621.7 651.0)" fill="none" stroke="#000" stroke-width="2.88"/>
<polyline points="610.5,651.0 610.5,670.0" fill="none" stroke="#000" stroke-width="2.88" />
<polyline points="633.0,651.0 633.0,670.0" fill="none" stroke="#000" stroke-width="2.88" />
<path d="M610.5,666 Q621.7,674 633,666" fill="none" stroke="#000" stroke-width="2.88"/>
<path d="M610.5,670 Q621.7,678 633,670" fill="none" stroke="#000" stroke-width="2.88"/>
<path d="M616,655 L627,646" fill="none" stroke="#000" stroke-width="3.12" />
<rect x="614.5" y="674" width="14.5" height="22" fill="none" stroke="#000" stroke-width="2.88"/>
<line x1="617" y1="678" x2="627" y2="679" stroke="#000" stroke-width="1.44"/>
<line x1="617" y1="682" x2="627" y2="683" stroke="#000" stroke-width="1.44"/>
<line x1="617" y1="686" x2="627" y2="687" stroke="#000" stroke-width="1.44"/>
<line x1="617" y1="690" x2="627" y2="691" stroke="#000" stroke-width="1.44"/>
<line x1="617" y1="694" x2="627" y2="695" stroke="#000" stroke-width="1.44"/>
<line x1="560.6" y1="754.0" x2="605.2" y2="696.1" stroke="#000" stroke-width="2.88"/>
<path d="M614.4,684.2 L608.8,701.3 L599.3,694.0 Z" fill="#000"/>
<text x="540.4" y="781.5" font-size="30.5">11</text>
</svg>
</body></html>
